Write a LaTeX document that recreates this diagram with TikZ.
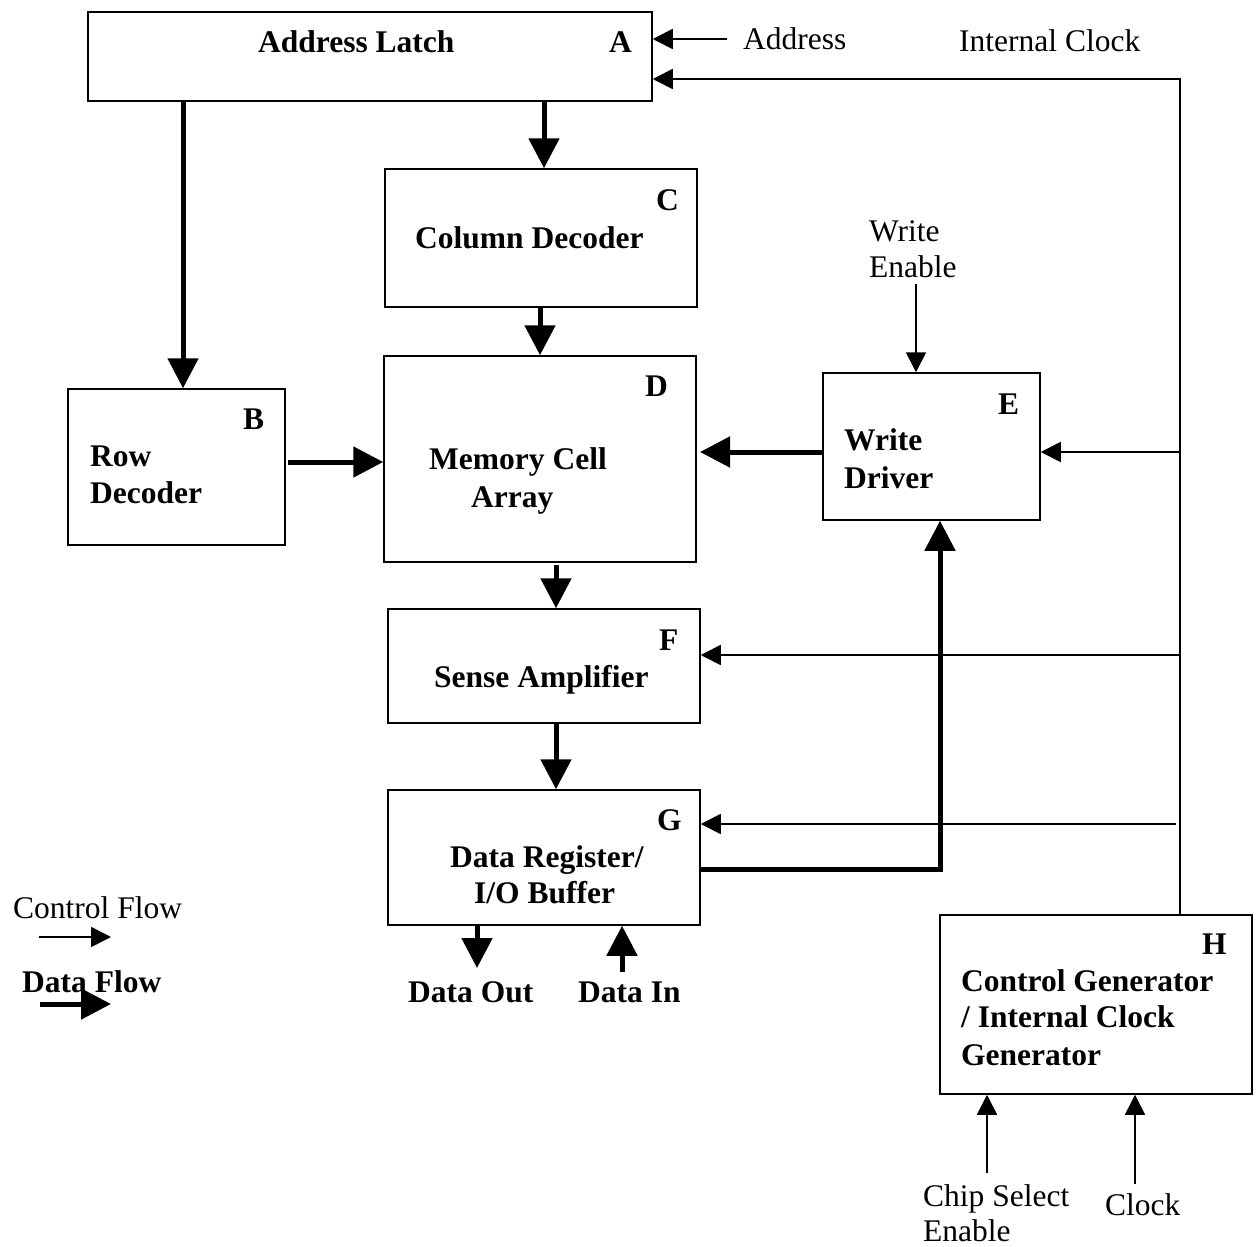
\documentclass[tikz,border=0pt]{standalone}
\usepackage{fontspec}
\setmainfont{Liberation Serif}
\usetikzlibrary{arrows.meta}
\begin{document}
\begin{tikzpicture}[x=1pt,y=-1pt,
  blk/.style={draw, line width=1.5pt, rectangle, inner sep=0pt},
  lbl/.style={anchor=base west, inner sep=0pt, font=\fontsize{31.5}{37}\selectfont\bfseries},
  txt/.style={anchor=base west, inner sep=0pt, font=\fontsize{31.5}{37}\selectfont},
  data/.style={line width=5pt, -{Triangle[length=30pt,width=30pt]}},
  ctrl/.style={line width=1.7pt, -{Triangle[length=20pt,width=20pt]}}]

% canvas
\path[fill=white] (0,0) rectangle (1259,1247);
\useasboundingbox (0,0) rectangle (1259,1247);

% functional blocks
\node[blk, minimum width=564pt, minimum height=89pt]  (A) at (370,56.5)   {};
\node[blk, minimum width=217pt, minimum height=156pt] (B) at (176.5,467)  {};
\node[blk, minimum width=312pt, minimum height=138pt] (C) at (541,238)    {};
\node[blk, minimum width=312pt, minimum height=206pt] (D) at (540,459)    {};
\node[blk, minimum width=217pt, minimum height=147pt] (E) at (931.5,446.5){};
\node[blk, minimum width=312pt, minimum height=114pt] (F) at (544,666)    {};
\node[blk, minimum width=312pt, minimum height=135pt] (G) at (544,857.5)  {};
\node[blk, minimum width=312pt, minimum height=179pt] (H) at (1096,1004.5){};

% block titles and letters
\node[lbl] (tA)  at (258,53)  {Address Latch};
\node[lbl] (lA)  at (609,53)  {A};
\node[lbl] (lB)  at (243,429) {B};
\node[lbl] (tB1) at (90,466)  {Row};
\node[lbl] (tB2) at (90,503)  {Decoder};
\node[lbl] (lC)  at (656,210) {C};
\node[lbl] (tC)  at (415,248) {Column Decoder};
\node[lbl] (lD)  at (645,396) {D};
\node[lbl] (tD1) at (429,469) {Memory Cell};
\node[lbl] (tD2) at (471,507) {Array};
\node[lbl] (lE)  at (998,414) {E};
\node[lbl] (tE1) at (844,450) {Write};
\node[lbl] (tE2) at (844,488) {Driver};
\node[lbl] (lF)  at (659,650) {F};
\node[lbl] (tF)  at (434,687) {Sense Amplifier};
\node[lbl] (lG)  at (657,830) {G};
\node[lbl] (tG1) at (450,867) {Data Register/};
\node[lbl] (tG2) at (474,903) {I/O Buffer};
\node[lbl] (lH)  at (1202,954) {H};
\node[lbl] (tH1) at (961,991)  {Control Generator};
\node[lbl] (tH2) at (961,1027) {/ Internal Clock};
\node[lbl] (tH3) at (961,1065) {Generator};

% external signal names
\node[lbl] (tOut) at (408,1002) {Data Out};
\node[lbl] (tIn)  at (578,1002) {Data In};
\node[txt] (tAd)  at (743,50)   {Address};
\node[txt] (tIC)  at (959,52)   {Internal Clock};
\node[txt] (tWE1) at (869,241)  {Write};
\node[txt] (tWE2) at (869,277)  {Enable};
\node[txt] (tCS1) at (923,1206) {Chip Select};
\node[txt] (tCS2) at (923,1241) {Enable};
\node[txt] (tCk)  at (1105,1215){Clock};

% legend
\node[txt] (tCF) at (13,918) {Control Flow};
\node[lbl] (tDF) at (22,992) {Data Flow};

% connector positions
\coordinate (xAB) at (183,0);
\coordinate (xAC) at (544,0);
\coordinate (xCD) at (540,0);
\coordinate (xDF) at (556,0);
\coordinate (xGE) at (940,0);
\coordinate (geY) at (0,869);
\coordinate (bdS) at (288,462);
\coordinate (edT) at (700,452);
\coordinate (dfS) at (556,565);
\coordinate (outT) at (477,968);
\coordinate (inS) at (622,972);
\coordinate (adS) at (727,39);
\coordinate (bus) at (1180,79);
\coordinate (ceS) at (1180,452);
\coordinate (cfS) at (1180,655);
\coordinate (cgS) at (1176,824);
\coordinate (weS) at (916,284);
\coordinate (csS) at (987,1173);
\coordinate (ckS) at (1135,1184);
\coordinate (lc1) at (39,937);
\coordinate (lc2) at (111,937);
\coordinate (ld1) at (40,1004);
\coordinate (ld2) at (111,1004);

% data paths
\draw[data] (A.south -| xAB) -- (B.north -| xAB);
\draw[data] (A.south -| xAC) -- (C.north -| xAC);
\draw[data] (C.south -| xCD) -- (D.north -| xCD);
\draw[data] (bdS) -- (D.west |- bdS);
\draw[data] (E.west |- edT) -- (edT);
\draw[data] (dfS) -- (F.north -| dfS);
\draw[data] (F.south -| xDF) -- (G.north -| xDF);
\draw[data] (G.east |- geY) -| (E.south -| xGE);
\draw[data] (G.south -| outT) -- (outT);
\draw[data] (inS) -- (G.south -| inS);

% control paths
\draw[ctrl] (adS) -- (A.east |- adS);
\draw[ctrl] (H.north -| bus) |- (A.east |- bus);
\draw[ctrl] (ceS) -- (E.east |- ceS);
\draw[ctrl] (cfS) -- (F.east |- cfS);
\draw[ctrl] (cgS) -- (G.east |- cgS);
\draw[ctrl] (weS) -- (E.north -| weS);
\draw[ctrl] (csS) -- (H.south -| csS);
\draw[ctrl] (ckS) -- (H.south -| ckS);

% legend arrows
\draw[ctrl] (lc1) -- (lc2);
\draw[data] (ld1) -- (ld2);
\end{tikzpicture}
\end{document}
